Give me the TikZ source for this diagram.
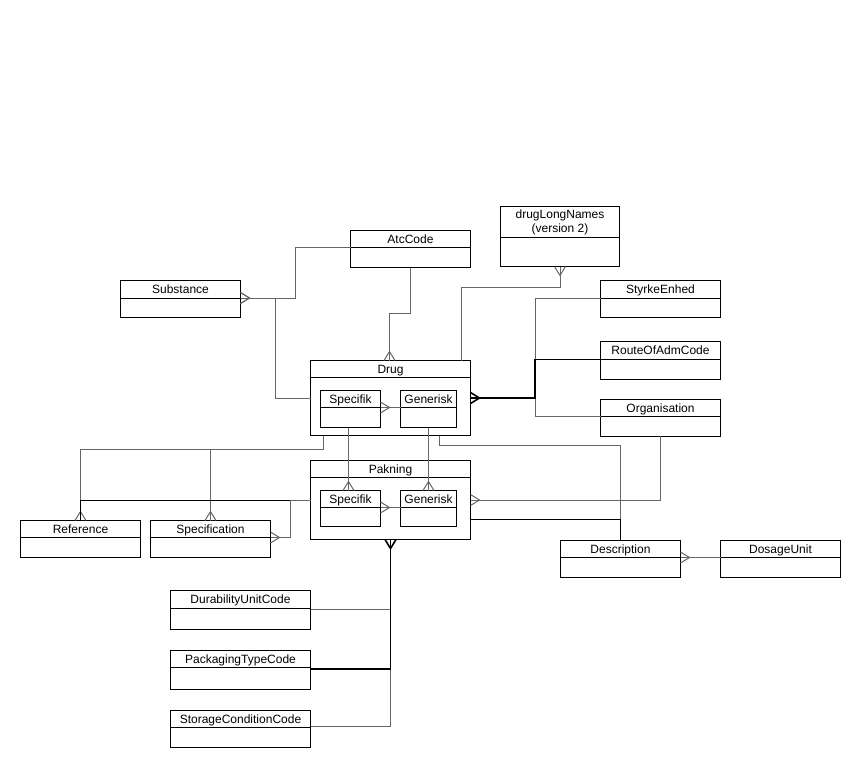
\documentclass[tikz,border=0pt]{standalone}
\usepackage{fontspec}
\setmainfont{Liberation Sans}
\usetikzlibrary{arrows.meta}
\definecolor{lg}{HTML}{666666}

\pgfdeclarearrow{
  name = Crow,
  parameters = {\the\pgfarrowlength,\the\pgfarrowwidth},
  setup code = {
    \pgfarrowssettipend{0pt}
    \pgfarrowssetbackend{-\pgfarrowlength}
    \pgfarrowssetlineend{0pt}
    \pgfarrowssavethe\pgfarrowlength
    \pgfarrowssavethe\pgfarrowwidth
  },
  drawing code = {
    \pgfsetdash{}{0pt}
    \pgfsetmiterjoin
    \pgfpathmoveto{\pgfqpoint{0pt}{.5\pgfarrowwidth}}
    \pgfpathlineto{\pgfqpoint{-\pgfarrowlength}{0pt}}
    \pgfpathlineto{\pgfqpoint{0pt}{-.5\pgfarrowwidth}}
    \pgfusepathqstroke
  },
  defaults = {length = 9pt, width = 11pt}
}

\newcommand\entbox[7]{%
  \node[ebox, minimum width=#4pt, minimum height=#5pt] (#1) at (#2,#3) {};
  \draw[eline] ({#2},{#3+#6}) -- ({#2+#4},{#3+#6});
  \node[etitle] (#1-t) at ({#2+#4/2},{#3+#6/2}) {#7};
}

\begin{document}
\begin{tikzpicture}[x=1pt,y=-1pt,
  ebox/.style={draw=black, line width=1pt, anchor=north west, inner sep=0pt, outer sep=0pt},
  eline/.style={draw=black, line width=1pt},
  etitle/.style={font=\fontsize{12}{14}\selectfont, text height=8.6pt, text depth=0pt, inner sep=0pt},
  gl/.style={draw=lg, line width=1pt},
  bl/.style={draw=black, line width=1pt},
  bk/.style={draw=black, line width=1.6pt},
]
\useasboundingbox (0,0) rectangle (862,766);

% entities
\entbox{atc}{350.5}{230.5}{120}{37}{17}{AtcCode}
\entbox{subst}{120.5}{280.5}{120}{37}{17.5}{Substance}
\node[ebox, minimum width=119pt, minimum height=60pt] (dln) at (500.5,206.5) {};
\draw[eline] (500.5,237.5) -- (619.5,237.5);
\node[font=\fontsize{12}{14}\selectfont, align=center, inner sep=0pt] (dln-t) at (560,222) {drugLongNames\\(version 2)};
\entbox{styrke}{600.5}{280.5}{120}{37}{17.5}{StyrkeEnhed}
\entbox{route}{600.5}{341.5}{120}{38}{18}{RouteOfAdmCode}
\entbox{org}{600.5}{399}{120}{37}{17.5}{Organisation}
\entbox{drug}{310.5}{360.5}{160}{75}{17}{Drug}
\entbox{dspec}{320.5}{390.5}{60}{37}{17}{Specifik}
\entbox{dgen}{400.5}{390.5}{56}{37}{17}{Generisk}
\entbox{pak}{310.5}{460.5}{160}{79}{17}{Pakning}
\entbox{pspec}{320.5}{490.5}{60}{36}{17}{Specifik}
\entbox{pgen}{400.5}{490.5}{56}{36}{17}{Generisk}
\entbox{refn}{20.5}{520.5}{120}{37}{17}{Reference}
\entbox{spec}{150.5}{520.5}{120}{37}{17}{Specification}
\entbox{desc}{560.5}{540.5}{120}{37}{17}{Description}
\entbox{dos}{720.5}{540.5}{120}{37}{17}{DosageUnit}
\entbox{dur}{170.5}{590.5}{140}{39}{18}{DurabilityUnitCode}
\entbox{pack}{170.5}{650.5}{140}{39}{17}{PackagingTypeCode}
\entbox{stor}{170.5}{710}{140}{37.5}{17.5}{StorageConditionCode}

% connectors
\draw[gl, Crow-] ([yshift=-17.5pt]subst.north east) -- ++(54.5,0) |- ([yshift=-17pt]atc.north west);
\draw[gl, Crow-] ([yshift=-17.5pt]subst.north east) -- ++(34.5,0) |- (drug.west);
\draw[gl, Crow-] ([xshift=-1pt]drug.north) -- ++(0,-47) -| (atc.south);
\draw[gl, Crow-] (dln.south) -- ++(0,21) -| ([xshift=-9pt]drug.north east);

\draw[gl] (drug.east) -- ++(64.5,0) |- ([yshift=-17.5pt]styrke.north west);
\draw[gl] (drug.east) -- ++(64.5,0) |- ([yshift=-17.5pt]org.north west);
\draw[bk, Crow-] (drug.east) -- ++(64.5,0) |- ([yshift=-18pt]route.north west);

\draw[gl, Crow-] (pak.east) -| (org.south);
\draw[gl] ([xshift=-31pt]drug.south east) -- ++(0,10) -| (desc.north);
\draw[bl] ([yshift=-19.5pt]pak.east) -| (desc.north);
\draw[gl, Crow-] ([yshift=-17pt]desc.north east) -- ([yshift=-17pt]dos.north west);

\draw[gl, Crow-] (refn.north) -- ++(0,-71.5) -| ([xshift=13pt]drug.south west);
\draw[gl, Crow-] (spec.north) -- ++(0,-71.5) -| ([xshift=13pt]drug.south west);
\draw[bl] (pak.west) -| (refn.north);
\draw[gl, Crow-] ([yshift=-17pt]spec.north east) -- ++(19.5,0) |- (pak.west);

\draw[gl, Crow-] ([yshift=-17pt]dspec.north east) -- ([yshift=-17pt]dgen.north west);
\draw[gl, Crow-] ([yshift=-17pt]pspec.north east) -- ([yshift=-17pt]pgen.north west);
\draw[gl, Crow-] ([xshift=-2pt]pspec.north) -- ([xshift=-2pt]dspec.south);
\draw[gl, Crow-] (pgen.north) -- (dgen.south);

\draw[gl] (pak.south) |- ([yshift=-18.5pt]dur.north east);
\draw[gl] (pak.south) |- ([yshift=-16pt]stor.north east);
\draw[bk, Crow-] (pak.south) |- ([yshift=-18.5pt]pack.north east);
\end{tikzpicture}
\end{document}
